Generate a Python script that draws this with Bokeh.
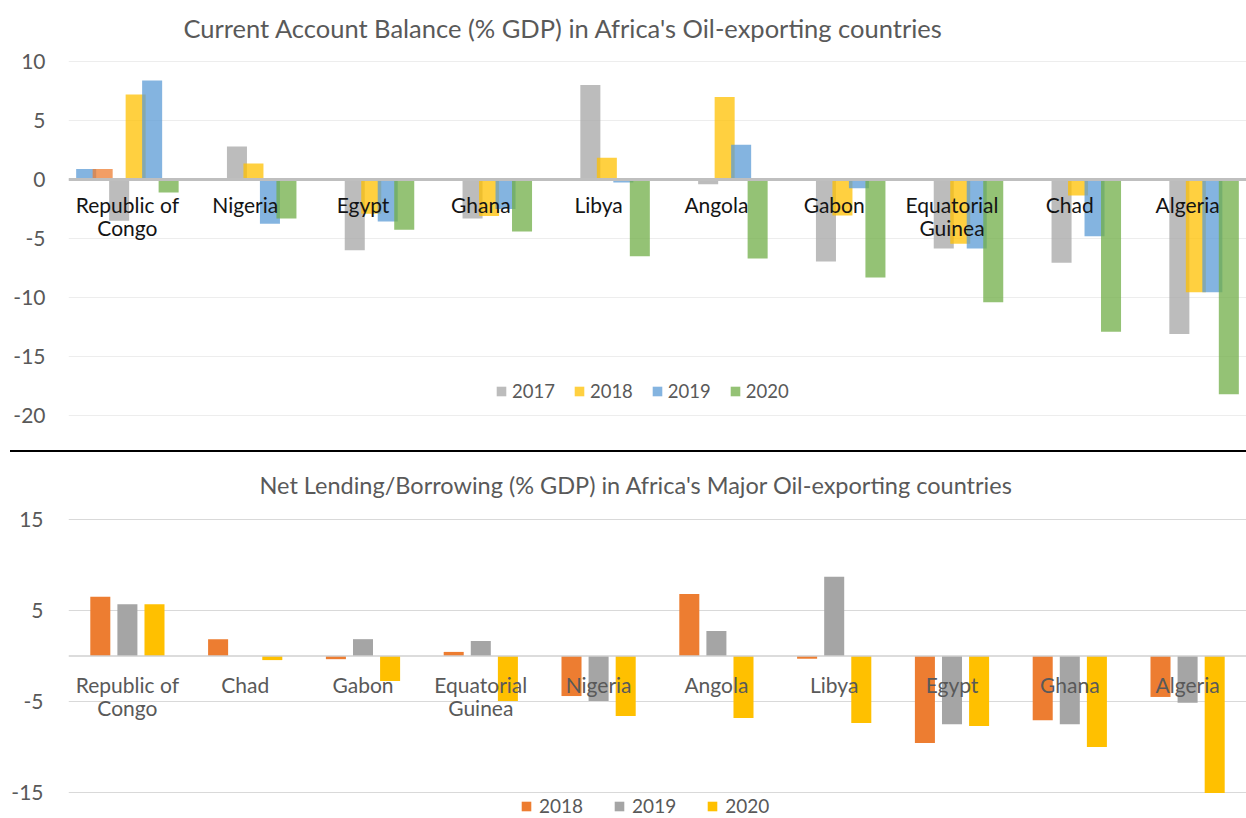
from bokeh.plotting import figure
from bokeh.models import (ColumnDataSource, FactorRange, Range1d, FixedTicker, Span,
                          Legend, LegendItem, Div, Label)
from bokeh.transform import dodge
from bokeh.layouts import column
from bokeh.embed import file_html
from bokeh.resources import INLINE
from bokeh.core.properties import value

FONT = "Lato"

# ---------------- data: Current Account Balance (% GDP) ----------------
ca_title = "Current Account Balance (% GDP) in Africa's Oil-exporting countries"
ca_countries = ["Republic of Congo", "Nigeria", "Egypt", "Ghana", "Libya", "Angola",
                "Gabon", "Equatorial Guinea", "Chad", "Algeria"]
ca_labels = ["Republic of\nCongo", "Nigeria", "Egypt", "Ghana", "Libya", "Angola",
             "Gabon", "Equatorial\nGuinea", "Chad", "Algeria"]
# two unlabeled series visible only at the first category
ca_extra_1 = [0.9, 0, 0, 0, 0, 0, 0, 0, 0, 0]
ca_extra_2 = [0.9, 0, 0, 0, 0, 0, 0, 0, 0, 0]
ca_2017 = [-3.5, 2.8, -6.0, -3.3, 8.0, -0.4, -6.95, -5.85, -7.05, -13.1]
ca_2018 = [7.2, 1.35, -2.9, -3.1, 1.85, 7.0, -3.05, -5.45, -1.35, -9.55]
ca_2019 = [8.4, -3.75, -3.55, -2.5, -0.25, 2.95, -0.75, -5.85, -4.8, -9.55]
ca_2020 = [-1.1, -3.3, -4.25, -4.4, -6.5, -6.7, -8.3, -10.4, -12.9, -18.2]
ca_ticks = [-20, -15, -10, -5, 0, 5, 10]

# ---------------- data: Net Lending/Borrowing (% GDP) ----------------
nl_title = "Net Lending/Borrowing (% GDP) in Africa's Major Oil-exporting countries"
nl_countries = ["Republic of Congo", "Chad", "Gabon", "Equatorial Guinea", "Nigeria",
                "Angola", "Libya", "Egypt", "Ghana", "Algeria"]
nl_labels = ["Republic of\nCongo", "Chad", "Gabon", "Equatorial\nGuinea", "Nigeria",
             "Angola", "Libya", "Egypt", "Ghana", "Algeria"]
nl_2018 = [6.5, 1.85, -0.35, 0.45, -4.4, 6.8, -0.3, -9.55, -7.05, -4.5]
nl_2019 = [5.7, 0.0, 1.85, 1.65, -4.95, 2.75, 8.7, -7.5, -7.5, -5.15]
nl_2020 = [5.7, -0.45, -2.75, -4.95, -6.6, -6.8, -7.35, -7.7, -10.0, -15.05]
nl_ticks = [-15, -5, 5, 15]

W = 1246
TOP_H = 450
SEP_H = 2
BOT_H = 366

# pixel layout (frame starts at the top of each figure; the head room holds the title)
TOP_PX = 11.8          # pixels per unit, top chart
TOP_HEAD = 61          # px from figure top to the "10" gridline
TOP_BOTTOM = 35        # px below the "-20" gridline
BOT_PX = 9.1           # pixels per unit, bottom chart
BOT_HEAD = 67          # px from figure top to the "15" gridline


def style_axes(p, ticks, grid_color, standoff):
    p.yaxis.ticker = FixedTicker(ticks=ticks)
    p.yaxis.major_label_overrides = {t: str(t) for t in ticks}
    p.ygrid.ticker = FixedTicker(ticks=ticks)
    p.yaxis.axis_line_color = None
    p.yaxis.major_tick_line_color = None
    p.yaxis.minor_tick_line_color = None
    p.yaxis.major_tick_out = 0
    p.yaxis.major_tick_in = 0
    p.yaxis.minor_tick_out = 0
    p.yaxis.major_label_text_font = FONT
    p.yaxis.major_label_text_font_size = "21px"
    p.yaxis.major_label_text_color = "#595959"
    p.yaxis.major_label_standoff = standoff
    p.xgrid.visible = False
    p.ygrid.grid_line_color = grid_color
    p.ygrid.grid_line_width = 1
    p.outline_line_color = None


# ---------------- top chart ----------------
top_hi = max(ca_ticks) + TOP_HEAD / TOP_PX
top_lo = min(ca_ticks) - TOP_BOTTOM / TOP_PX
top = figure(width=W, height=TOP_H,
             x_range=FactorRange(factors=ca_countries, range_padding=0),
             y_range=Range1d(top_lo, top_hi),
             output_backend="svg", toolbar_location=None, x_axis_location=None,
             min_border_left=68, min_border_right=0, min_border_top=0, min_border_bottom=0)
style_axes(top, ca_ticks, "#EDEDED", 23)

top_src = ColumnDataSource(dict(country=ca_countries, e1=ca_extra_1, e2=ca_extra_2,
                                y2017=ca_2017, y2018=ca_2018, y2019=ca_2019, y2020=ca_2020,
                                zero=[0] * len(ca_countries), label=ca_labels))
top_series = [("e1", "#5B9BD5", None), ("e2", "#ED7D31", None),
              ("y2017", "#A5A5A5", "2017"), ("y2018", "#FFC000", "2018"),
              ("y2019", "#5B9BD5", "2019"), ("y2020", "#70AD47", "2020")]
top_items = []
n = len(top_series)
for i, (col, color, name) in enumerate(top_series):
    r = top.vbar(x=dodge("country", (i - (n - 1) / 2) * 0.14, range=top.x_range),
                 top=col, width=0.17, source=top_src,
                 fill_color=color, fill_alpha=0.75, line_color=None)
    if name:
        top_items.append(LegendItem(label=name, renderers=[r]))

top.add_layout(Span(location=0, dimension="width", line_color="#BFBFBF", line_width=3))

top.text(x="country", y="zero", text="label", source=top_src,
         text_font=value(FONT), text_font_size="21px", text_color="#141414",
         text_align="center", text_baseline="top", y_offset=12, text_line_height=0.92)

top.add_layout(Label(x=0, y=top_hi, x_offset=115, y_offset=-27, text=ca_title,
                     text_font=FONT, text_font_size="25.5px", text_color="#595959",
                     text_align="left", text_baseline="middle"))

top_leg = Legend(items=top_items, orientation="horizontal", location=(427, 48),
                 glyph_width=12, glyph_height=12, label_standoff=5, spacing=18,
                 padding=0, margin=0, border_line_color=None, background_fill_alpha=0,
                 label_text_font=FONT, label_text_font_size="18.5px",
                 label_text_color="#595959")
top.add_layout(top_leg)

# ---------------- separator line ----------------
sep = Div(text="", width=W - 10, height=SEP_H, margin=(0, 0, 0, 10),
          styles={"background-color": "#000000"})

# ---------------- bottom chart ----------------
bot_hi = max(nl_ticks) + BOT_HEAD / BOT_PX
bot_lo = bot_hi - BOT_H / BOT_PX
bot = figure(width=W, height=BOT_H,
             x_range=FactorRange(factors=nl_countries, range_padding=0),
             y_range=Range1d(bot_lo, bot_hi),
             output_backend="svg", toolbar_location=None, x_axis_location=None,
             min_border_left=68, min_border_right=0, min_border_top=0, min_border_bottom=0)
style_axes(bot, nl_ticks, "#D9D9D9", 25)

bot_src = ColumnDataSource(dict(country=nl_countries, y2018=nl_2018, y2019=nl_2019,
                                y2020=nl_2020, zero=[0] * len(nl_countries), label=nl_labels))
bot_series = [("y2018", "#ED7D31", "2018"), ("y2019", "#A5A5A5", "2019"),
              ("y2020", "#FFC000", "2020")]
bot_items = []
m = len(bot_series)
for i, (col, color, name) in enumerate(bot_series):
    r = bot.vbar(x=dodge("country", (i - (m - 1) / 2) * 0.23, range=bot.x_range),
                 top=col, width=0.17, source=bot_src,
                 fill_color=color, line_color=None)
    bot_items.append(LegendItem(label=name, renderers=[r]))

bot.add_layout(Span(location=0, dimension="width", line_color="#D0D0D0", line_width=1.5))

bot.text(x="country", y="zero", text="label", source=bot_src,
         text_font=value(FONT), text_font_size="21px", text_color="#595959",
         text_align="center", text_baseline="top", y_offset=16, text_line_height=0.92)

bot.add_layout(Label(x=0, y=bot_hi, x_offset=191, y_offset=-32, text=nl_title,
                     text_font=FONT, text_font_size="23.5px", text_color="#595959",
                     text_align="left", text_baseline="middle"))

bot_leg = Legend(items=bot_items, orientation="horizontal", location=(452, 1),
                 glyph_width=12, glyph_height=12, label_standoff=7, spacing=30,
                 padding=0, margin=0, border_line_color=None, background_fill_alpha=0,
                 label_text_font=FONT, label_text_font_size="19px",
                 label_text_color="#595959")
bot.add_layout(bot_leg)

layout = column(top, sep, bot, spacing=0)
open("out.html", "w").write(file_html(layout, INLINE))
